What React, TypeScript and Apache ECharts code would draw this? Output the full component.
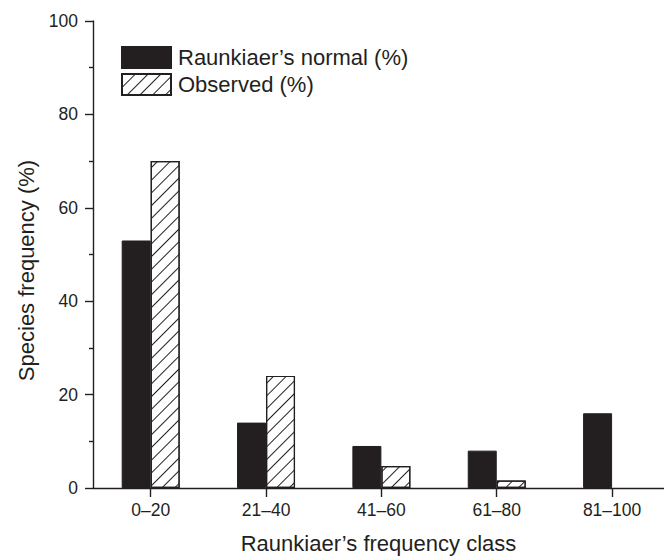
import React, { useEffect, useRef } from "react";
import * as echarts from "echarts";

const categories = ["0–20", "21–40", "41–60", "61–80", "81–100"];
const classPositions = [1, 2, 3, 4, 5];
const normalValues = [53, 14, 9, 8, 16];
const observedValues = [70, 24, 4.7, 1.6, 0];
const yTicks = [0, 20, 40, 60, 80, 100];

const INK = "#231f20";
const FONT = "'Liberation Sans', Arial, Helvetica, sans-serif";

export default function App() {
  const ref = useRef<HTMLDivElement>(null);
  useEffect(() => {
    if (!ref.current) return;
    const chart = echarts.init(ref.current, null, { renderer: "svg" });
    chart.setOption({
      animation: false,
      backgroundColor: "#ffffff",
      textStyle: { fontFamily: FONT, color: INK },
      grid: { left: 93, right: 0, top: 21, bottom: 69, containLabel: false },
      legend: {
        orient: "vertical",
        left: 121,
        top: 46,
        padding: 0,
        itemWidth: 49,
        itemHeight: 21,
        itemGap: 4,
        icon: "rect",
        textStyle: { fontSize: 22, color: INK, fontFamily: FONT, padding: [0, 0, 0, 2] },
        data: ["Raunkiaer’s normal (%)", "Observed (%)"],
      },
      xAxis: {
        type: "value",
        min: 0.5,
        max: 5.45,
        name: "Raunkiaer’s frequency class",
        nameLocation: "middle",
        nameGap: 44,
        nameTextStyle: { fontSize: 22, color: INK, fontFamily: FONT },
        axisLine: { show: true, onZero: false, lineStyle: { color: INK, width: 1.4 } },
        axisTick: {
          show: true,
          length: 9,
          customValues: classPositions,
          lineStyle: { color: INK, width: 1.4 },
        },
        axisLabel: {
          customValues: classPositions,
          margin: 13,
          fontSize: 17.5,
          color: INK,
          fontFamily: FONT,
          formatter: (v: number) => categories[Math.round(v) - 1] ?? "",
        },
        splitLine: { show: false },
      },
      yAxis: {
        type: "value",
        min: yTicks[0],
        max: yTicks[yTicks.length - 1],
        interval: 20,
        name: "Species frequency (%)",
        nameLocation: "middle",
        nameGap: 54,
        nameTextStyle: { fontSize: 22, color: INK, fontFamily: FONT, padding: [0, 32, 0, 0] },
        axisLine: { show: true, lineStyle: { color: INK, width: 1.4 } },
        axisTick: { show: true, length: 8, lineStyle: { color: INK, width: 1.4 } },
        minorTick: { show: true, splitNumber: 2, length: 4, lineStyle: { color: INK, width: 1.4 } },
        axisLabel: { margin: 15, fontSize: 17.5, color: INK, fontFamily: FONT },
        splitLine: { show: false },
      },
      series: [
        {
          name: "Raunkiaer’s normal (%)",
          type: "bar",
          barWidth: 29,
          barGap: "0%",
          itemStyle: { color: INK, borderColor: INK, borderWidth: 1 },
          data: classPositions.map((x, i) => [x, normalValues[i]]),
        },
        {
          name: "Observed (%)",
          type: "bar",
          barWidth: 29,
          barGap: "0%",
          itemStyle: {
            color: "#ffffff",
            borderColor: INK,
            borderWidth: 1.2,
            decal: {
              symbol: "rect",
              symbolSize: 1,
              color: INK,
              backgroundColor: "#ffffff",
              dashArrayX: [1, 0],
              dashArrayY: [1, 7.5],
              rotation: -Math.PI / 4,
            },
          },
          data: classPositions.map((x, i) => [x, observedValues[i] === 0 ? "-" : observedValues[i]]),
        },
      ],
    });
    return () => chart.dispose();
  }, []);
  return (
    <div
      ref={ref}
      style={{ position: "fixed", left: 0, top: 0, width: 664, height: 559, background: "#fff" }}
    />
  );
}
